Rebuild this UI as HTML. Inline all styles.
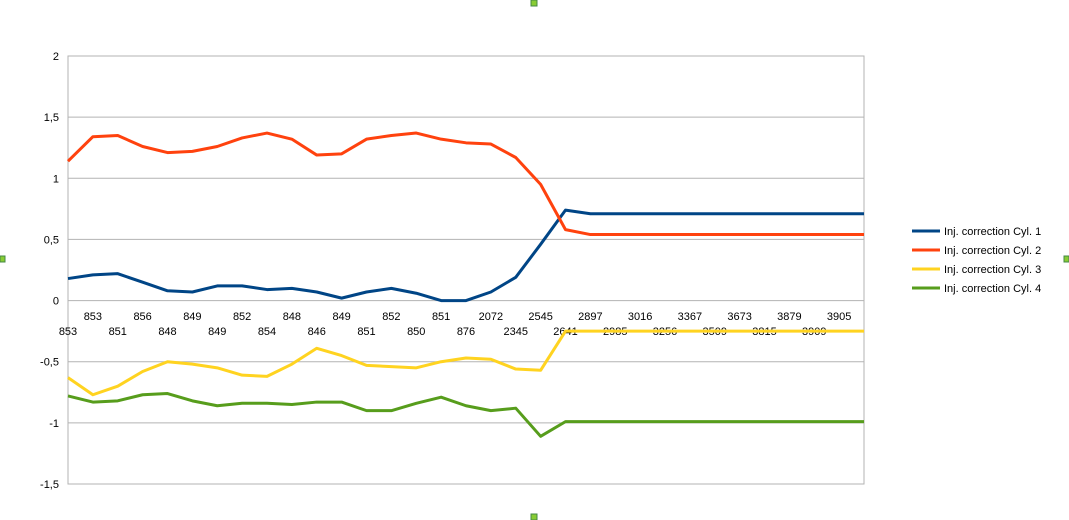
<!DOCTYPE html>
<html><head><meta charset="utf-8"><style>
body{margin:0;background:#fff;}
svg{display:block;font-family:"Liberation Sans",sans-serif;}
</style></head><body>
<svg id="chart" width="1069" height="520" xmlns="http://www.w3.org/2000/svg">
<rect x="0" y="0" width="1069" height="520" fill="#fff"/>
<g id="grid"></g>
<g id="ylab"></g>
<g id="xlab"></g>
<g id="series"></g>
<g id="legend"></g>
<rect x="531" y="0" width="6" height="6" fill="#8c3" stroke="#484"/>
<rect x="0" y="256" width="5" height="6" fill="#8c3" stroke="#484"/>
<rect x="1064" y="256" width="5" height="6" fill="#8c3" stroke="#484"/>
<rect x="531" y="514" width="6" height="6" fill="#8c3" stroke="#484"/>
</svg>
<script>
const categories=["853","853","851","856","848","849","849","852","854","848","846","849","851","852","850","851","876","2072","2345","2545","2641","2897","2985","3016","3256","3367","3509","3673","3815","3879","3909","3905",""];
const cyl1=[0.18,0.21,0.22,0.15,0.08,0.07,0.12,0.12,0.09,0.10,0.07,0.02,0.07,0.10,0.06,0.0,0.0,0.07,0.19,0.46,0.74,0.71,0.71,0.71,0.71,0.71,0.71,0.71,0.71,0.71,0.71,0.71,0.71];
const cyl2=[1.14,1.34,1.35,1.26,1.21,1.22,1.26,1.33,1.37,1.32,1.19,1.20,1.32,1.35,1.37,1.32,1.29,1.28,1.17,0.95,0.58,0.54,0.54,0.54,0.54,0.54,0.54,0.54,0.54,0.54,0.54,0.54,0.54];
const cyl3=[-0.63,-0.77,-0.70,-0.58,-0.50,-0.52,-0.55,-0.61,-0.62,-0.52,-0.39,-0.45,-0.53,-0.54,-0.55,-0.50,-0.47,-0.48,-0.56,-0.57,-0.25,-0.25,-0.25,-0.25,-0.25,-0.25,-0.25,-0.25,-0.25,-0.25,-0.25,-0.25,-0.25];
const cyl4=[-0.78,-0.83,-0.82,-0.77,-0.76,-0.82,-0.86,-0.84,-0.84,-0.85,-0.83,-0.83,-0.90,-0.90,-0.84,-0.79,-0.86,-0.90,-0.88,-1.11,-0.99,-0.99,-0.99,-0.99,-0.99,-0.99,-0.99,-0.99,-0.99,-0.99,-0.99,-0.99,-0.99];
const yTicks=[2,1.5,1,0.5,0,-0.5,-1,-1.5];
const seriesNames=["Inj. correction Cyl. 1","Inj. correction Cyl. 2","Inj. correction Cyl. 3","Inj. correction Cyl. 4"];
const colors=["#004586","#ff420e","#ffd320","#579d1c"];
const NS="http://www.w3.org/2000/svg";
const X0=68,X1=864,Y0=56,Y1=484;
function xs(i){return X0+i*(X1-X0)/(categories.length-1);}
function ys(v){return Y1-(v+1.5)/3.5*(Y1-Y0);}
function mk(t,a,p){const e=document.createElementNS(NS,t);for(const k in a)e.setAttribute(k,a[k]);p.appendChild(e);return e;}
const grid=document.getElementById('grid'),yl=document.getElementById('ylab'),xl=document.getElementById('xlab');
yTicks.forEach(v=>{
  const l=mk('line',{x1:X0,x2:X1,y1:ys(v),y2:ys(v),stroke:'#b3b3b3','stroke-width':1},grid);
  
  
  const t=mk('text',{x:59,y:ys(v)+4,'text-anchor':'end','font-size':11,fill:'#000'},yl);
  t.textContent=String(v).replace('.',',');
  
  
});
const fr=mk('rect',{x:X0,y:Y0,width:X1-X0,height:Y1-Y0,fill:'none',stroke:'#b3b3b3'},grid);


categories.forEach((c,i)=>{
  const t=mk('text',{x:xs(i),y:i%2?320:335,'text-anchor':'middle','font-size':11,fill:'#000'},xl);
  t.textContent=c;
  
  
});
const sg=document.getElementById('series');
[cyl1,cyl2,cyl3,cyl4].forEach((d,s)=>{
  const p=mk('polyline',{points:d.map((v,i)=>xs(i)+','+ys(v)).join(' '),fill:'none',stroke:colors[s],'stroke-width':3,'stroke-linejoin':'round'},sg);
  
  
});
const lg=document.getElementById('legend');
seriesNames.forEach((n,s)=>{
  const y=231+s*19;
  const g=mk('g',{},lg);
  
  
  mk('line',{x1:912,x2:940,y1:y,y2:y,stroke:colors[s],'stroke-width':3},g);
  const t=mk('text',{x:944,y:y+4,'font-size':11,fill:'#000'},g);
  t.textContent=n;
});
</script>
</body></html>
